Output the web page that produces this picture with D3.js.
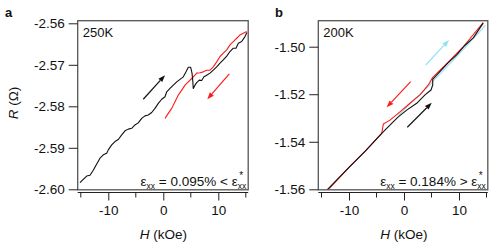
<!DOCTYPE html>
<html>
<head>
<meta charset="utf-8">
<script src="https://d3js.org/d3.v7.min.js"></script>
<style>
  body { margin: 0; background: #fff; }
  svg { display: block; font-family: "Liberation Sans", Arial, sans-serif; }
</style>
</head>
<body>
<svg id="chart" width="499" height="247"></svg>
<script>
// panel a, 250K : field H (kOe) and resistance R (ohm)
const aUpH = [-15.15, -14.55, -13.93, -13.33, -12.73, -12.11, -11.51, -10.91, -10.29, -10.0, -9.38, -8.78, -8.18, -7.56, -6.96, -6.36, -5.75, -5.15, -4.55, -3.93, -3.33, -2.73, -2.11, -1.51, -0.91, -0.29, 0.31, 0.62, 1.22, 1.82, 2.44, 3.04, 3.64, 4.13, 4.55, 4.98, 5.22, 5.35, 5.45, 5.76, 6.07, 6.55, 6.98, 7.4, 7.89, 8.49, 9.09, 9.71, 10.31, 10.91, 11.53, 12.13, 12.73, 13.22, 13.64, 14.25, 14.85, 15.2];
const aUpR = [-2.5984, -2.5976, -2.5968, -2.5966, -2.5954, -2.5939, -2.5925, -2.5917, -2.5913, -2.5905, -2.5893, -2.5885, -2.5880, -2.5869, -2.5859, -2.5855, -2.5853, -2.5845, -2.5840, -2.5829, -2.5823, -2.5821, -2.5815, -2.5805, -2.5793, -2.5783, -2.5777, -2.5765, -2.5757, -2.5749, -2.5741, -2.5735, -2.5729, -2.5717, -2.5706, -2.5706, -2.5720, -2.5737, -2.5757, -2.5749, -2.5743, -2.5737, -2.5738, -2.5729, -2.5725, -2.5720, -2.5713, -2.5705, -2.5696, -2.5688, -2.5679, -2.5668, -2.5660, -2.5660, -2.5648, -2.5644, -2.5632, -2.5622];
const aDownH = [0.31, 0.91, 1.53, 2.13, 2.73, 3.35, 3.95, 4.55, 5.16, 5.76, 6.07, 6.67, 7.27, 7.89, 8.49, 9.09, 9.71, 10.31, 10.91, 11.53, 12.13, 12.73, 13.35, 13.95, 14.55, 15.16];
const aDownR = [-2.5829, -2.5817, -2.5805, -2.5789, -2.5773, -2.5761, -2.5749, -2.5741, -2.5733, -2.5725, -2.5720, -2.5719, -2.5717, -2.5713, -2.5713, -2.5705, -2.5693, -2.5680, -2.5672, -2.5664, -2.5652, -2.5644, -2.5636, -2.5628, -2.5624, -2.5620];

// panel b, 200K
const bUpH = [-13.9, -10, -7, -4.05, -2.24, -1.04, 0.49, 2.31, 3.82, 4.91, 5.22, 5.22, 8, 9.58, 11, 12.6, 14.4];
const bUpR = [-1.5600, -1.5508, -1.5438, -1.5365, -1.5323, -1.5295, -1.5267, -1.5238, -1.5203, -1.5182, -1.5161, -1.5137, -1.5068, -1.5034, -1.4996, -1.4963, -1.4901];
const bDownH = [-13.6, -10, -7, -4.05, -3.75, -2.55, -0.73, 1.09, 2.91, 4.42, 5.22, 8, 11, 14.4];
const bDownR = [-1.5597, -1.5508, -1.5438, -1.5365, -1.5325, -1.5309, -1.5274, -1.5238, -1.5203, -1.5161, -1.5129, -1.5066, -1.4994, -1.4899];
const bUp2H = [-1, 2, 4.5, 5.5, 10, 14.8];
const bUp2R = [-1.5289, -1.5219, -1.5166, -1.5140, -1.5031, -1.4910];

const xTicks = [-10, 0, 10];
const xMinor = [-15, -5, 5, 15];
const aYTicks = [-2.60, -2.59, -2.58, -2.57, -2.56];
const bYTicks = [-1.56, -1.54, -1.52, -1.50];

const svg = d3.select("#chart");

function panel(opt) {
  const g = svg.append("g");
  const x = d3.scaleLinear().domain([-15, 15]).range(opt.xr);
  const y = d3.scaleLinear().domain(opt.yd).range([189.3, opt.yTop]);
  const fx0 = opt.frame[0], fx1 = opt.frame[1], fy0 = 20.7, fy1 = 189.8;

  // frame
  g.append("rect").attr("x", fx0).attr("y", fy0)
    .attr("width", fx1 - fx0).attr("height", fy1 - fy0)
    .attr("fill", "none").attr("stroke", "#555").attr("stroke-width", 1.3);

  // y axis on frame
  const ya = d3.axisLeft(y).tickValues(opt.yTicks).tickSize(9).tickPadding(4)
    .tickFormat(d3.format(".2f"));
  const yg = g.append("g").attr("transform", `translate(${fx0},0)`).call(ya);
  yg.select(".domain").remove();
  yg.selectAll("line").attr("stroke", "#222");
  yg.selectAll("text").attr("font-size", 13.5).attr("fill", "#111")
    .text(d => d3.format(".2f")(d).replace("−", "-"));

  // x axis, detached under frame
  const xa = d3.axisBottom(x).tickValues(xTicks).tickSize(8).tickPadding(5).tickFormat(d3.format("d"));
  const xg = g.append("g").attr("transform", "translate(0,192.5)").call(xa);
  xg.select(".domain").attr("d", `M${fx0},0H${fx1}`).attr("stroke", "#222");
  xg.selectAll("line").attr("stroke", "#222");
  xg.selectAll("text").attr("font-size", 13.5).attr("fill", "#111")
    .text(d => String(d).replace("−", "-"));
  xg.selectAll(".minor").data(xMinor).enter().append("line").attr("class", "minor")
    .attr("x1", d => x(d)).attr("x2", d => x(d)).attr("y1", 0).attr("y2", 5)
    .attr("stroke", "#222");

  const line = d3.line().x(d => x(d[0])).y(d => y(d[1]));
  opt.series.forEach(s => {
    g.append("path").datum(d3.zip(s.h, s.r)).attr("d", line)
      .attr("fill", "none").attr("stroke", s.color).attr("stroke-width", 1.1)
      .attr("stroke-linejoin", "round");
  });

  // arrows
  opt.arrows.forEach(a => {
    const x0 = x(a[0]), y0 = y(a[1]), x1 = x(a[2]), y1 = y(a[3]);
    const ang = Math.atan2(y1 - y0, x1 - x0);
    const L = 7, W = 2.6;
    const bx = x1 - L * Math.cos(ang), by = y1 - L * Math.sin(ang);
    g.append("line").attr("x1", x0).attr("y1", y0).attr("x2", bx).attr("y2", by)
      .attr("stroke", a[4]).attr("stroke-width", 1.2);
    const px = -Math.sin(ang) * W, py = Math.cos(ang) * W;
    g.append("path").attr("d", `M${x1},${y1}L${bx + px},${by + py}L${bx - px},${by - py}Z`)
      .attr("fill", a[4]);
  });

  // labels
  g.append("text").attr("x", opt.letterX).attr("y", 17).attr("font-size", 13)
    .attr("font-weight", "bold").attr("fill", "#111").text(opt.letter);
  g.append("text").attr("x", fx0 + 5).attr("y", 37).attr("font-size", 13)
    .attr("fill", "#111").text(opt.temp);

  const e = g.append("text").attr("x", fx1 - 2).attr("y", 185.5).attr("font-size", 13.5)
    .attr("text-anchor", "end").attr("fill", "#111");
  e.append("tspan").text("ε");
  e.append("tspan").attr("font-size", 8.5).attr("dy", 3).text("xx");
  e.append("tspan").attr("dy", -3).text(" = " + opt.strain + " " + opt.rel + " ε");
  e.append("tspan").attr("font-size", 8.5).attr("dy", 3).text("xx");
  g.append("text").attr("x", fx1 - 9).attr("y", 179).attr("font-size", 10)
    .attr("fill", "#111").text("*");

  const xl = g.append("text").attr("x", x(0)).attr("y", 239).attr("font-size", 13.5)
    .attr("text-anchor", "middle").attr("fill", "#111");
  xl.append("tspan").attr("font-style", "italic").text("H");
  xl.append("tspan").text(" (kOe)");
  return g;
}

panel({
  xr: [80.8, 245.8], yd: [-2.60, -2.56], yTop: 23.3, frame: [77.7, 248.2],
  yTicks: aYTicks, letter: "a", letterX: 5, temp: "250K",
  strain: "0.095%", rel: "<",
  series: [
    { h: aDownH, r: aDownR, color: "#ff1a1a" },
    { h: aUpH, r: aUpR, color: "#111" }
  ],
  arrows: [
    [-3.64, -2.5783, 0.31, -2.5725, "#111"],
    [12.0, -2.5722, 8.0, -2.5783, "#ff1a1a"]
  ]
});

panel({
  xr: [321.5, 486.5], yd: [-1.56, -1.50], yTop: 46.7, frame: [318.3, 487.8],
  yTicks: bYTicks, letter: "b", letterX: 275, temp: "200K",
  strain: "0.184%", rel: ">",
  series: [
    { h: bUp2H, r: bUp2R, color: "#8ee4f7" },
    { h: bDownH, r: bDownR, color: "#ff1a1a" },
    { h: bUpH, r: bUpR, color: "#111" }
  ],
  arrows: [
    [3.95, -1.5077, 8.18, -1.4972, "#8ee4f7"],
    [1.22, -1.5147, -3.15, -1.5255, "#ff1a1a"],
    [0.6, -1.5339, 5.04, -1.5236, "#111"]
  ]
});

// y label, panel a
const yl = svg.append("text").attr("transform", "translate(18,103) rotate(-90)")
  .attr("font-size", 13.5).attr("text-anchor", "middle").attr("fill", "#111");
yl.append("tspan").attr("font-style", "italic").text("R");
yl.append("tspan").text(" (Ω)");
</script>
</body>
</html>
